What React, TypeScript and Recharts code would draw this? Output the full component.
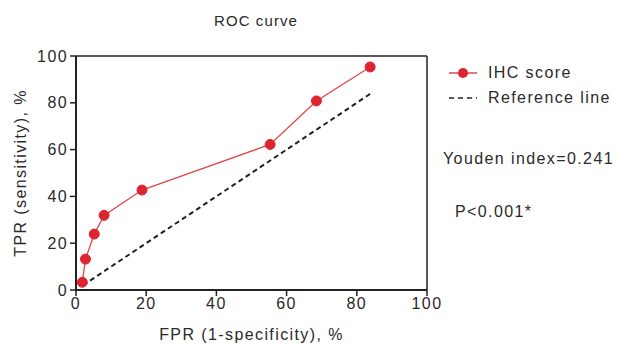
import React from 'react';
import { LineChart, Line, XAxis, YAxis, ReferenceLine } from 'recharts';

const fpr = [1.8, 2.7, 5.2, 8.0, 18.8, 55.3, 68.5, 83.8];
const tpr = [3.3, 13.2, 23.9, 31.9, 42.7, 62.2, 80.8, 95.3];
const refFpr = [2, 84];
const refTpr = [2, 84];
const xTicks = [0, 20, 40, 60, 80, 100];
const yTicks = [0, 20, 40, 60, 80, 100];
const chartTitle = 'ROC curve';
const xTitle = 'FPR (1-specificity), %';
const yTitle = 'TPR (sensitivity), %';
const seriesNames = ['IHC score', 'Reference line'];
const notes = ['Youden index=0.241', 'P<0.001*'];

const rocData = fpr.map((x, i) => ({ fpr: x, tpr: tpr[i] }));
const refData = refFpr.map((x, i) => ({ fpr: x, tpr: refTpr[i] }));

const FONT = '"Liberation Sans", Arial, sans-serif';
const TXT = '#2a2a2a';
const RED = '#dc2530';
const LINE_RED = '#e04848';
const AX = '#222';
const textStyle = { fontFamily: FONT, fontSize: 16, fill: TXT, letterSpacing: 1.4 };
const htmlText = { fontFamily: FONT, fontSize: 16, color: TXT, letterSpacing: 1.4, whiteSpace: 'nowrap' as const };

export default function App() {
  return (
    <div style={{ position: 'absolute', left: 0, top: 0, width: 621, height: 344, background: '#fff' }}>
      <div style={{ position: 'absolute', left: 0, top: 12, width: 512, textAlign: 'center', ...htmlText, fontSize: 15, letterSpacing: 1.1 }}>
        {chartTitle}
      </div>
      <LineChart width={621} height={344} margin={{ top: 56, right: 194, bottom: 0, left: 0 }}>
        <XAxis
          dataKey="fpr"
          type="number"
          domain={[0, 100]}
          ticks={xTicks}
          allowDataOverflow
          height={54}
          axisLine={{ stroke: AX, strokeWidth: 2 }}
          tickLine={{ stroke: AX, strokeWidth: 1.5 }}
          tickSize={6}
          tick={textStyle}
          label={{ value: xTitle, position: 'insideBottom', offset: 4, style: textStyle }}
        />
        <YAxis
          dataKey="tpr"
          type="number"
          domain={[0, 100]}
          ticks={yTicks}
          allowDataOverflow
          width={76}
          axisLine={{ stroke: AX, strokeWidth: 2 }}
          tickLine={{ stroke: AX, strokeWidth: 1.5 }}
          tickSize={6}
          tick={textStyle}
          label={{ value: yTitle, angle: -90, position: 'insideLeft', offset: 20, style: { ...textStyle, textAnchor: 'middle' } }}
        />
        <ReferenceLine y={100} stroke={AX} strokeWidth={1.5} />
        <ReferenceLine x={100} stroke={AX} strokeWidth={1.5} />
        <Line
          data={refData}
          dataKey="tpr"
          name={seriesNames[1]}
          stroke={AX}
          strokeWidth={2}
          strokeDasharray="5 3.5"
          dot={false}
          isAnimationActive={false}
        />
        <Line
          data={rocData}
          dataKey="tpr"
          name={seriesNames[0]}
          stroke={LINE_RED}
          strokeWidth={1.3}
          dot={{ r: 5, fill: RED, stroke: RED, strokeWidth: 1 }}
          isAnimationActive={false}
        />
      </LineChart>
      <div style={{ position: 'absolute', left: 446, top: 62, ...htmlText }}>
        <div style={{ display: 'flex', alignItems: 'center', height: 22 }}>
          <svg width={34} height={12} style={{ marginRight: 8 }}>
            <line x1={3} y1={6} x2={31} y2={6} stroke={LINE_RED} strokeWidth={1.5} />
            <circle cx={17} cy={6} r={5} fill={RED} />
          </svg>
          <span>{seriesNames[0]}</span>
        </div>
        <div style={{ display: 'flex', alignItems: 'center', height: 22, marginTop: 3 }}>
          <svg width={34} height={12} style={{ marginRight: 8 }}>
            <line x1={3} y1={6} x2={31} y2={6} stroke={AX} strokeWidth={1.5} strokeDasharray="5 4" />
          </svg>
          <span>{seriesNames[1]}</span>
        </div>
      </div>
      <div style={{ position: 'absolute', left: 443, top: 150, ...htmlText }}>{notes[0]}</div>
      <div style={{ position: 'absolute', left: 455, top: 203, ...htmlText }}>{notes[1]}</div>
    </div>
  );
}
